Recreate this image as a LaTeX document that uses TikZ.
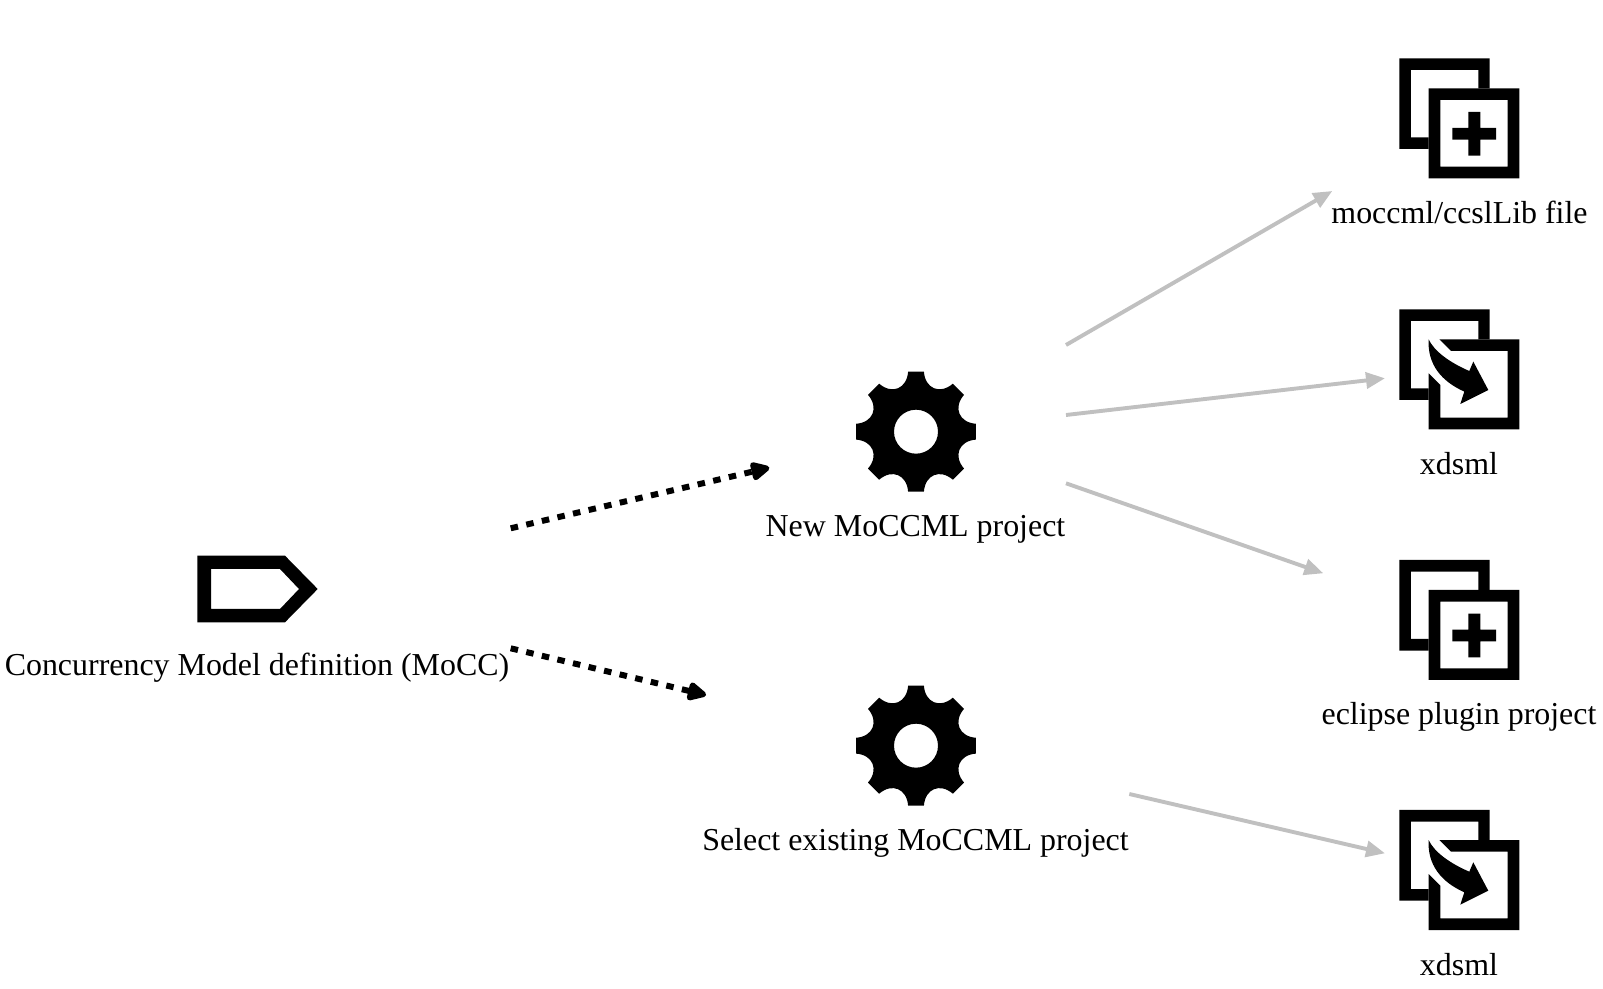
\documentclass[tikz,border=0pt]{standalone}
\usepackage{fontspec}
\setmainfont[RawFeature={-kern;-liga}]{Liberation Serif}
\usetikzlibrary{arrows.meta}
\definecolor{edgegray}{HTML}{C0C0C0}
\tikzset{
  lbl/.style={anchor=base,inner sep=0pt,outer sep=0pt,text=black,font=\fontsize{15.96}{18}\selectfont},
  grayedge/.style={draw=edgegray,line width=1.95pt,-{Triangle[length=9.5pt,width=8pt]}},
  dotedge/.style={draw=black,line width=3pt,dash pattern=on 3.75pt off 4.25pt,
    -{Triangle[length=11pt,width=10pt,round]}},
  backframe/.pic={
    \fill[black] (0,0) -- (90.3,0) -- (90.3,30) -- (79,30) -- (79,11.6) -- (11.6,11.6) -- (11.6,79)
      -- (29.3,79) -- (29.3,90.7) -- (0,90.7) -- cycle;
  },
  plusicon/.pic={
    \pic {backframe};
    \fill[black,even odd rule] (29.3,30) rectangle (120,120) (41,41.7) rectangle (108.3,108.3);
    \fill[black] (53,69.7) -- (69,69.7) -- (69,53.7) -- (81,53.7) -- (81,69.7) -- (96.7,69.7)
      -- (96.7,81.3) -- (81,81.3) -- (81,97.3) -- (69,97.3) -- (69,81.3) -- (53,81.3) -- cycle;
  },
  arrowicon/.pic={
    \pic {backframe};
    \fill[black] (40,30) -- (120,30) -- (120,120) -- (29.3,120) -- (29.3,64) -- (41,75.7)
      -- (41,108.3) -- (108.3,108.3) -- (108.3,41.7) -- (51.7,41.7) -- cycle;
    \fill[black] (29.3,30) .. controls (35,42) and (50,53) .. (70,61.7) -- (74,52.3) -- (89,80.7)
      -- (61,94.7) -- (65,82.3) .. controls (42,72) and (28,55) .. (29.3,30) -- cycle;
  },
  gearicon/.pic={
    \fill[black,even odd rule] (7.5:60.5)
      \foreach \a in {0,45,...,315}{
        .. controls (\a+12:44) and (\a+33:44) .. (\a+37.5:60.5) -- (\a+52.5:60.5)
      } -- cycle
      (0,0) circle[radius=11pt];
  },
  tagicon/.pic={
    \fill[black,even odd rule] (197.3,555.7) -- (285,555.7) -- (317.7,589) -- (285,622.3) -- (197.3,622.3) -- cycle
      (211,569) -- (280,569) -- (299,589) -- (280,609) -- (211,609) -- cycle;
  }
}
\begin{document}
\begin{tikzpicture}[x=.5pt,y=-.5pt]
\path[use as bounding box] (0,0) rectangle (1603,989);

\pic (tag) at (0,0) {tagicon};
\node[lbl] (mocc) at (257,676) {Concurrency Model definition (MoCC)};

\pic (gearA) at (916,431.7) {gearicon};
\node[lbl] (newproj) at (915.5,536.7) {New MoCCML project};
\pic (gearB) at (916,745.7) {gearicon};
\node[lbl] (selproj) at (915.5,850.5) {Select existing MoCCML project};

\pic (iconA) at (1399.3,58.3) {plusicon};
\node[lbl] (ccsl) at (1459.5,223.3) {moccml/ccslLib file};
\pic (iconB) at (1399.3,309.3) {arrowicon};
\node[lbl] (xdA) at (1459,474.3) {xdsml};
\pic (iconC) at (1399.3,560) {plusicon};
\node[lbl] (plugin) at (1459,724.5) {eclipse plugin project};
\pic (iconD) at (1399.3,810) {arrowicon};
\node[lbl] (xdB) at (1459,975.5) {xdsml};

\coordinate (moccOutA) at (510.7,528.3);
\coordinate (newIn) at (769.3,467.7);
\coordinate (moccOutB) at (510.7,648.3);
\coordinate (selIn) at (706,695);
\coordinate (newOutA) at (1066,345);
\coordinate (ccslIn) at (1332.3,191);
\coordinate (newOutB) at (1066,415);
\coordinate (xdAIn) at (1385,378.3);
\coordinate (newOutC) at (1066,483.3);
\coordinate (pluginIn) at (1323.3,573.3);
\coordinate (selOut) at (1129.3,794);
\coordinate (xdBIn) at (1385,853.3);

\draw[dotedge] (moccOutA) -- (newIn);
\draw[dotedge] (moccOutB) -- (selIn);
\draw[grayedge] (newOutA) -- (ccslIn);
\draw[grayedge] (newOutB) -- (xdAIn);
\draw[grayedge] (newOutC) -- (pluginIn);
\draw[grayedge] (selOut) -- (xdBIn);
\end{tikzpicture}
\end{document}
